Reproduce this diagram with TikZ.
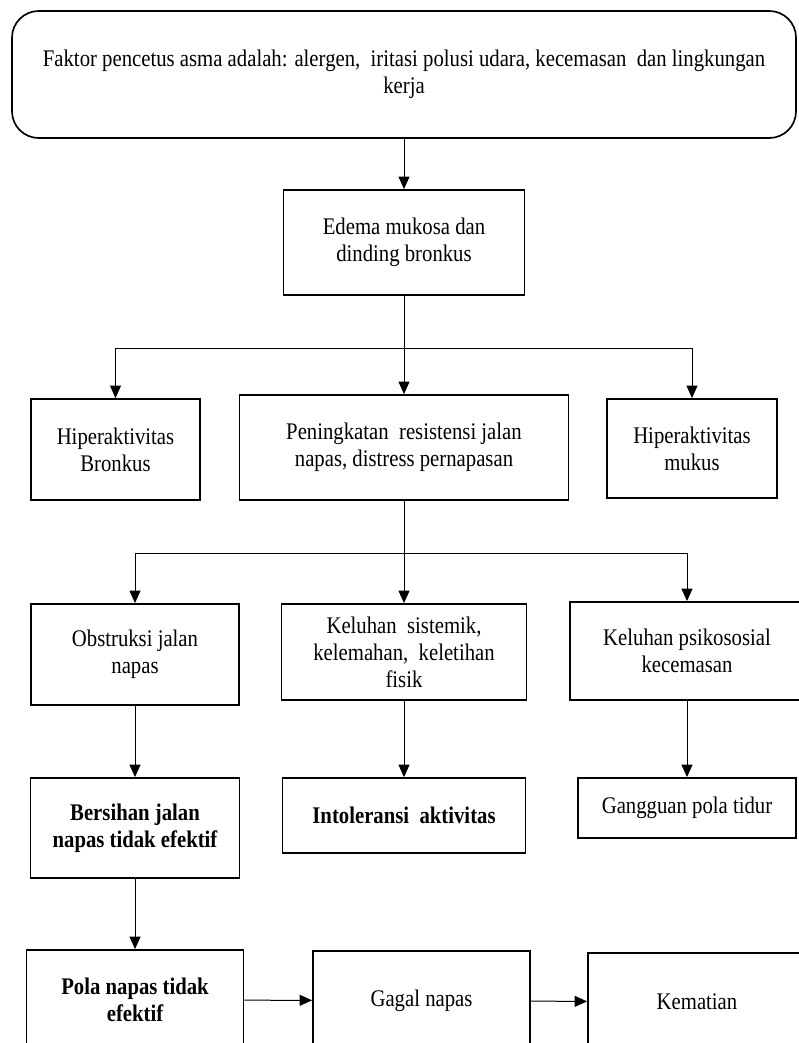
\documentclass[tikz,border=0pt]{standalone}
\usepackage{fontspec}
\setmainfont[FakeStretch=0.87]{Liberation Serif}
\usetikzlibrary{arrows.meta}

\begin{document}
\begin{tikzpicture}[x=0.6pt,y=-0.6pt,>={Triangle[length=7.5pt,width=6.6pt]},
  box/.style={draw,line width=1.1pt,align=center,inner sep=0pt,font=\fontsize{14.3}{16.2}\selectfont},
  diag/.style={box,font=\fontsize{14.3}{16.2}\selectfont\bfseries},
  rbox/.style={box,line width=1pt,rounded corners=16pt},
  sz/.style 2 args={minimum width=#1*0.6pt,minimum height=#2*0.6pt},
  link/.style={->,line width=0.6pt}]
\path[use as bounding box,clip] (0,0) rectangle (799,1043);
\node[rbox,sz={784}{127}] (trigger) at (404,74.5) {Faktor pencetus asma adalah: alergen,~ iritasi polusi udara, kecemasan~ dan lingkungan\\kerja};
\node[box,sz={241}{105}] (edema) at (404,242.5) {Edema mukosa dan\\dinding bronkus};
\node[box,sz={169}{101}] (hipbronk) at (115.5,449.5) {Hiperaktivitas\\Bronkus};
\node[box,sz={329}{105}] (resist) at (404,447.5) {Peningkatan~ resistensi jalan\\napas, distress pernapasan};
\node[box,sz={170}{99}] (hipmukus) at (692,448.5) {Hiperaktivitas\\mukus};
\node[box,sz={208}{101}] (obstruksi) at (135,654.5) {Obstruksi jalan\\napas};
\node[box,sz={245}{96}] (sistemik) at (404,652) {Keluhan~ sistemik,\\kelemahan,~ keletihan\\fisik};
\node[box,sz={234}{98}] (psiko) at (687,651) {Keluhan psikososial\\kecemasan};
\node[diag,sz={209}{100}] (bersihan) at (135,828) {Bersihan jalan\\napas tidak efektif};
\node[diag,sz={243}{75}] (intoleransi) at (404,815.5) {Intoleransi~ aktivitas};
\node[box,sz={218}{60}] (tidur) at (687,808) {Gangguan pola tidur};
\node[diag,sz={217}{100}] (polanapas) at (135,1000) {Pola napas tidak\\efektif};
\node[box,sz={217}{99}] (gagal) at (421.5,1000.5) {Gagal napas};
\node[box,sz={218}{98}] (kematian) at (697,1002) {Kematian};
\coordinate (split1) at (404,348);
\coordinate (split2) at (404,553);
% first branch
\draw[link] (trigger) -- (edema);
\draw[line width=0.6pt] (edema) -- (split1);
\draw[link] (split1) -| (hipbronk);
\draw[link] (split1) -- (resist);
\draw[link] (split1) -| (hipmukus);
% second branch
\draw[line width=0.6pt] (resist) -- (split2);
\draw[link] (split2) -| (obstruksi);
\draw[link] (split2) -- (sistemik);
\draw[link] (split2) -| (psiko);
% diagnoses
\draw[link] (obstruksi) -- (bersihan);
\draw[link] (sistemik) -- (intoleransi);
\draw[link] (psiko) -- (tidur);
\draw[link] (bersihan) -- (polanapas);
\draw[link] (polanapas) -- (gagal);
\draw[link] (gagal) -- (kematian);
\end{tikzpicture}
\end{document}
